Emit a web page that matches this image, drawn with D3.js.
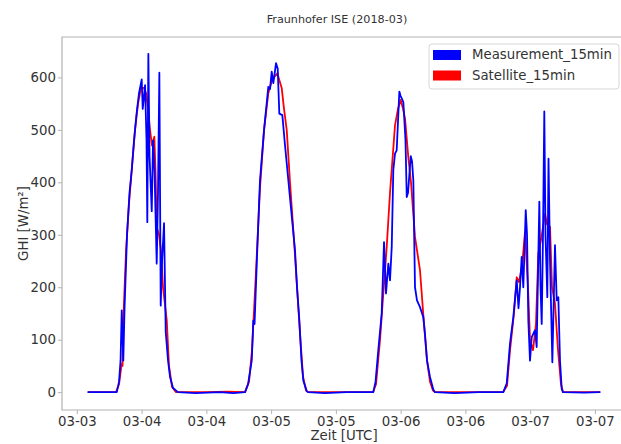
<!DOCTYPE html>
<html>
<head>
<meta charset="utf-8">
<script src="https://cdn.jsdelivr.net/npm/d3@7"></script>
<style>
  body { margin: 0; background: #fff; }
  svg { font-family: "DejaVu Sans", sans-serif; }
</style>
</head>
<body>
<div id="graph01"></div>
<script>
// hours since 03-03 00:00 UTC, GHI in W/m²
const measured = [
  [0, 0], [5.4, 0], [5.82, 20], [6.10, 60], [6.32, 156], [6.61, 60], [6.84, 160], [7.30, 300], [7.76, 380], [8.17, 423],
  [8.60, 480], [9.06, 530], [9.52, 570], [10.02, 596], [10.21, 540], [10.64, 585], [10.91, 480], [11.06, 324], [11.25, 645], [11.47, 450],
  [11.88, 345], [12.12, 480], [12.40, 420], [12.80, 245], [13.04, 380], [13.29, 609], [13.54, 165], [13.79, 250], [14.16, 322], [14.47, 115],
  [14.90, 60], [15.27, 29], [15.82, 8], [16.51, 2], [16.75, 0], [20.0, -2], [24.5, 0], [27.0, -2],
  [29.17, 0], [29.72, 15], [30.41, 60], [30.70, 137], [30.93, 130], [31.39, 260], [31.94, 404], [32.69, 500], [33.48, 582], [33.80, 578],
  [34.11, 611], [34.41, 589], [34.91, 627], [35.22, 617], [35.52, 531], [36.08, 528], [36.58, 470], [37.19, 404], [37.69, 350], [38.43, 270],
  [38.80, 200], [39.23, 137], [39.63, 60], [39.97, 22], [40.60, 2], [40.84, 0], [44.0, -2], [48.0, 0],
  [52.94, 0], [53.35, 20], [53.86, 80], [54.49, 150], [54.92, 286], [55.29, 188], [55.72, 245], [56.03, 213], [56.35, 277], [56.64, 423],
  [56.96, 455], [57.27, 461], [57.76, 573], [57.98, 565], [58.20, 560], [58.50, 553], [58.90, 480], [59.13, 372], [59.37, 380], [59.87, 450],
  [60.11, 440], [60.35, 404], [60.66, 200], [61.03, 175], [61.59, 162], [62.20, 143], [62.52, 110], [62.89, 60], [63.44, 29], [64.05, 5],
  [64.37, 0], [68.0, -2], [72.5, 0],
  [77.02, 0], [77.66, 17], [78.27, 93], [78.88, 143], [79.51, 213], [79.84, 160], [80.12, 200], [80.43, 258], [80.73, 200], [81.18, 347],
  [81.42, 300], [81.66, 137], [81.97, 60], [82.29, 105], [82.53, 110], [82.90, 118], [83.21, 86], [83.70, 363], [83.92, 200], [84.14, 130],
  [84.38, 300], [84.62, 535], [84.84, 300], [85.18, 181], [85.40, 445], [85.68, 250], [86.11, 57], [86.60, 280], [86.92, 175], [87.22, 181],
  [87.53, 60], [87.85, 6], [88.09, 0], [92.0, -1], [95.0, 0]
];

const satellite = [
  [0, 0], [5.26, 0], [5.82, 15], [6.19, 45], [6.32, 54], [6.47, 50], [6.61, 137], [7.12, 270], [7.67, 360], [8.17, 423],
  [8.78, 500], [9.34, 550], [9.89, 580], [10.45, 580], [10.82, 570], [11.19, 540], [11.56, 500], [11.93, 470], [12.36, 487], [12.58, 420],
  [12.80, 315], [13.23, 300], [13.60, 270], [13.97, 200], [14.66, 137], [15.08, 50], [15.64, 10], [16.38, 0], [22.0, 0], [26.0, 1],
  [29.17, 0], [29.91, 20], [30.46, 80], [31.20, 230], [31.94, 390], [32.69, 500], [33.48, 570], [34.17, 595], [35.15, 608], [35.96, 580],
  [36.39, 540], [36.89, 500], [37.50, 400], [38.24, 290], [38.80, 200], [39.36, 110], [39.91, 30], [40.47, 3], [40.84, 0],
  [52.88, 0], [53.44, 15], [54.18, 100], [54.73, 180], [55.42, 277], [56.03, 380], [56.96, 509], [57.51, 540], [58.01, 557], [58.44, 540],
  [58.81, 522], [59.42, 448], [59.92, 400], [60.66, 296], [61.59, 232], [62.33, 130], [62.89, 60], [63.44, 20], [64.00, 3], [64.37, 0],
  [76.97, 0], [77.71, 12], [78.27, 80], [79.00, 150], [79.51, 219], [79.93, 210], [80.49, 240], [81.05, 305], [81.60, 200], [81.97, 100],
  [82.53, 80], [83.08, 130], [83.51, 264], [84.01, 290], [84.75, 340], [85.12, 320], [85.68, 315], [86.05, 200], [86.60, 169], [87.16, 80],
  [87.71, 15], [88.09, 0], [95.0, 0]
];

const tickHours = [-2, 10, 22, 34, 46, 58, 70, 82, 94];
const tickLabels = ["03-03", "03-04", "03-04", "03-05", "03-05", "03-06", "03-06", "03-07", "03-07"];
const yTicks = [0, 100, 200, 300, 400, 500, 600];
const seriesNames = ["Measurement_15min", "Satellite_15min"];
const seriesColors = ["#0000ff", "#ff0000"];

(function() {
    const width = 621, height = 444;
    const svg = d3.select('#graph01').append("svg")
        .attr("width", width)
        .attr("height", height);
    svg.append("rect").attr("width", width).attr("height", height).attr("fill", "#fff");

    const box = { left: 62, right: 630, top: 37, bottom: 410 };

    const x = d3.scaleLinear().domain([-4.75, 100.5]).range([box.left, box.right]);
    const y = d3.scaleLinear().domain([-34, 677]).range([box.bottom, box.top]);

    drawAxes(svg, x, y, box);

    // satellite first, measurement on top
    drawLine(svg, satellite, x, y, seriesColors[1]);
    drawLine(svg, measured, x, y, seriesColors[0]);

    // frame
    const spine = "#b3b3b3";
    svg.append("path")
        .attr("d", `M${box.left},${box.top}V${box.bottom}H${box.right}V${box.top}Z`)
        .attr("fill", "none")
        .attr("stroke", spine)
        .attr("stroke-width", 1.2);

    svg.append("text")
        .attr("x", 337).attr("y", 23)
        .attr("text-anchor", "middle")
        .attr("font-size", 11.2)
        .attr("fill", "#333")
        .text("Fraunhofer ISE (2018-03)");

    svg.append("text")
        .attr("x", (box.left + box.right) / 2 - 2).attr("y", 440)
        .attr("text-anchor", "middle")
        .attr("font-size", 13.3)
        .attr("fill", "#333")
        .text("Zeit [UTC]");

    svg.append("text")
        .attr("transform", `translate(28,${(box.top + box.bottom) / 2}) rotate(-90)`)
        .attr("text-anchor", "middle")
        .attr("font-size", 13.3)
        .attr("fill", "#333")
        .text("GHI [W/m²]");

    drawLegend(svg);
})();

function drawAxes(svg, x, y, box) {
    const axisx = d3.axisBottom(x)
        .tickValues(tickHours)
        .tickFormat((d, i) => tickLabels[i])
        .tickSize(4)
        .tickPadding(2.5);
    const axisy = d3.axisLeft(y)
        .tickValues(yTicks)
        .tickSize(4)
        .tickPadding(2);

    const gx = svg.append("g")
        .attr("transform", "translate(0," + box.bottom + ")")
        .call(axisx);
    const gy = svg.append("g")
        .attr("transform", "translate(" + box.left + ",0)")
        .call(axisy);

    [gx, gy].forEach(g => {
        g.select(".domain").remove();
        g.selectAll(".tick line").attr("stroke", "#b3b3b3");
        g.selectAll(".tick text")
            .attr("fill", "#333")
            .attr("font-size", 13.3)
            .attr("font-family", "DejaVu Sans");
    });
}

function drawLine(svg, data, x, y, color) {
    const line = d3.line()
        .x(d => x(d[0]))
        .y(d => y(d[1]));
    svg.append("path")
        .datum(data)
        .attr("fill", "none")
        .attr("stroke", color)
        .attr("stroke-width", 1.8)
        .attr("stroke-linejoin", "round")
        .attr("d", line);
}

function drawLegend(svg) {
    const g = svg.append("g");
    g.append("rect")
        .attr("x", 429).attr("y", 44)
        .attr("width", 190).attr("height", 45)
        .attr("rx", 3)
        .attr("fill", "#fff")
        .attr("fill-opacity", 0.85)
        .attr("stroke", "#d6d6d6");
    seriesNames.forEach((name, i) => {
        g.append("rect")
            .attr("x", 433).attr("y", 50 + i * 20.5)
            .attr("width", 28).attr("height", 10)
            .attr("fill", seriesColors[i]);
        g.append("text")
            .attr("x", 472).attr("y", 59 + i * 20.5)
            .attr("font-size", 13.3)
            .attr("fill", "#333")
            .text(name);
    });
}
</script>
</body>
</html>
